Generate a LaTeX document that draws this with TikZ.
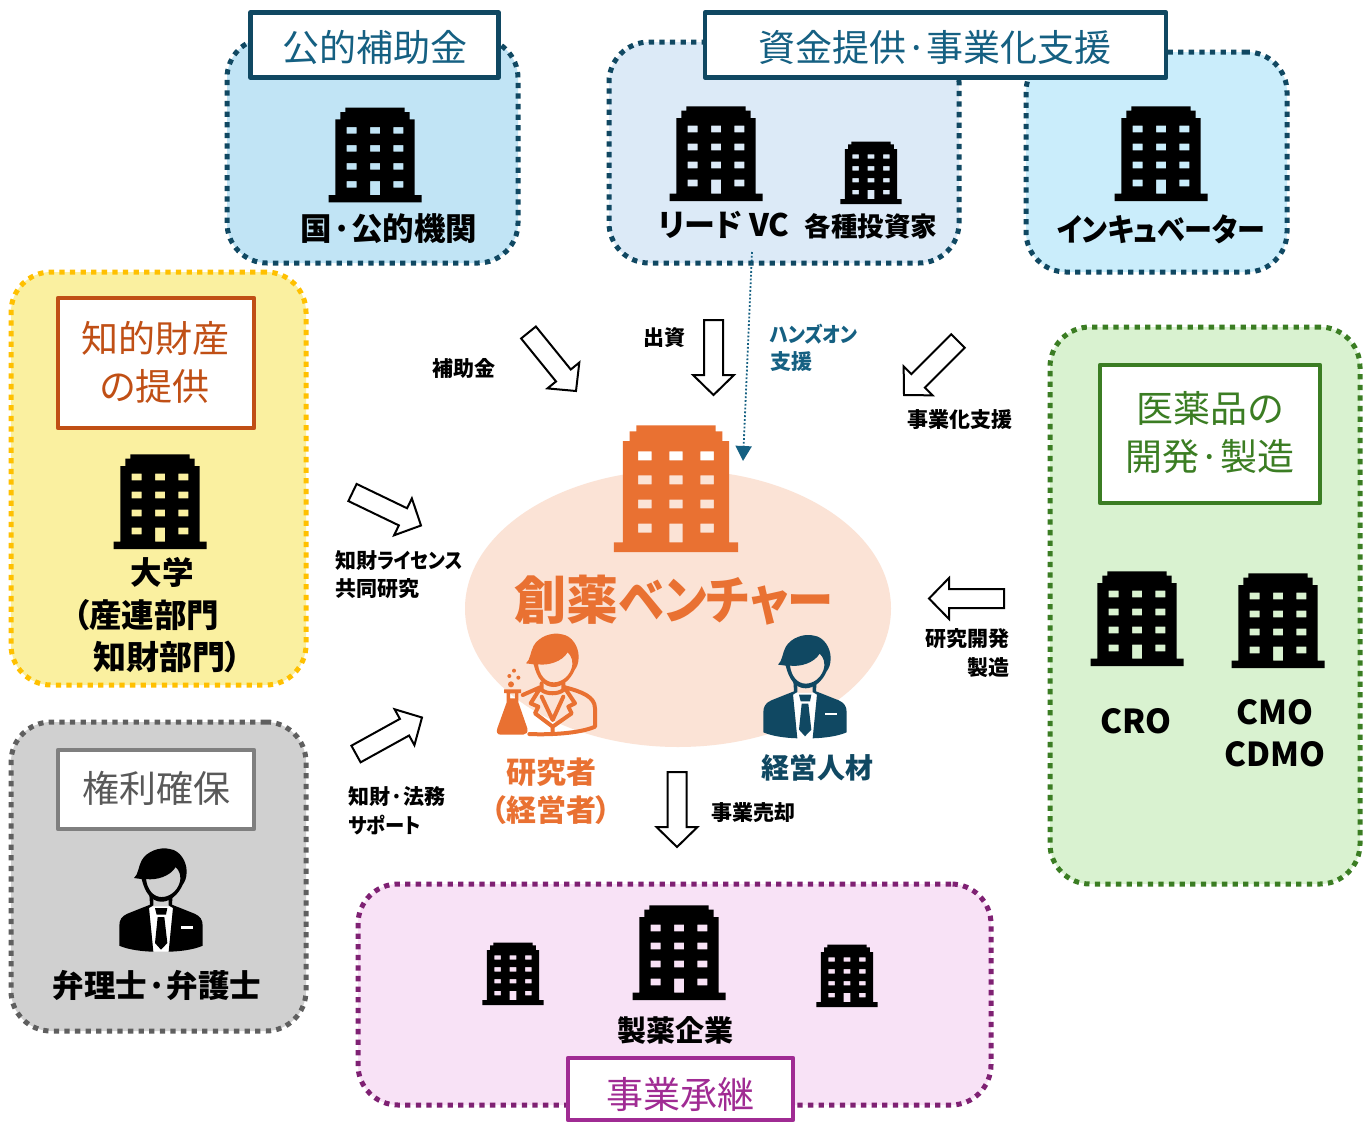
\documentclass[tikz,border=0pt]{standalone}
\usepackage{fontspec}
\usepackage{graphicx}
\setmainfont{Noto Sans CJK JP}[RawFeature={+palt}]
\usetikzlibrary{calc,arrows.meta}
\definecolor{teal}{HTML}{104862}
\definecolor{tealmid}{HTML}{156082}
\definecolor{orng}{HTML}{E97132}
\definecolor{orngdk}{HTML}{C04F15}
\definecolor{grnd}{HTML}{3B7D23}
\definecolor{purp}{HTML}{A02B93}
\definecolor{purpd}{HTML}{7F2173}
\definecolor{grayd}{HTML}{5F5F5F}
\definecolor{graym}{HTML}{7F7F7F}
\definecolor{grayt}{HTML}{595959}
\newcommand\fs[1]{\fontsize{#1}{#1}\selectfont}
\newcommand\xs[2]{\scalebox{#1}[1]{#2}}
\tikzset{
  region/.style={rectangle,rounded corners=40pt,line width=5pt,dash pattern=on 5.3pt off 5.3pt,inner sep=0pt,outer sep=0pt},
  titlebox/.style={rectangle,fill=white,line width=4.5pt,line join=round,inner sep=0pt,outer sep=0pt},
  ttl/.style={inner sep=0pt,font=\fs{37}},
  big/.style={inner sep=0pt,font=\bfseries\fs{31.5}},
  lbl/.style={inner sep=0pt,font=\bfseries\fs{21}},
  blockstyle/.style={fill=white,draw=black,line width=2pt,line join=miter},
}
% building: centre x, bottom y, scale, colour
\newcommand\bldg[4]{%
  \fill[#4,even odd rule,shift={(#1,#2)},x=#3pt,y=-#3pt]
    (-46.5,0) -- (46.5,0) -- (46.5,-7.3) -- (39.7,-7.3) -- (39.7,-83) -- (34.7,-83) -- (34.7,-90.3) -- (29.7,-90.3) -- (29.7,-94.7)
    -- (-29.7,-94.7) -- (-29.7,-90.3) -- (-34.7,-90.3) -- (-34.7,-83) -- (-39.7,-83) -- (-39.7,-7.3) -- (-46.5,-7.3) -- cycle
    \foreach \cx in {-23.3,0,23.3}{ \foreach \ry in {68.6,50.6,32.6}{
      (\cx-5,-\ry) rectangle (\cx+5,-\ry-6.7) } }
    (-23.3-5,-14.6) rectangle (-23.3+5,-21.3)
    (23.3-5,-14.6) rectangle (23.3+5,-21.3)
    (-5,-7.3) rectangle (5,-21.3);
}
% head, shared by all the figures (anchor 153,336 in third-of-a-pixel units)
\newcommand\headpath{%
  (72,115) .. controls (85,105) and (85,80) .. (95,62) .. controls (110,35) and (150,20) .. (180,28)
  .. controls (210,32) and (230,65) .. (230,95) .. controls (230,115) and (225,125) .. (218,135)
  .. controls (205,165) and (180,186) .. (155,186) .. controls (125,186) and (105,160) .. (95,118) -- cycle
  (108,118) .. controls (140,122) and (180,110) .. (197,82) .. controls (208,92) and (216,110) .. (208,132)
  .. controls (200,155) and (178,172) .. (155,172) .. controls (130,172) and (112,150) .. (108,118) -- cycle}
\newcommand\suitperson[3]{%
  \begin{scope}[shift={(#1,#2)},x=.3333pt,y=-.3333pt,shift={(-153,-336)}]
    \fill[white] (117,200) -- (189,200) -- (176,336) -- (130,336) -- cycle;
    \fill[#3,even odd rule] \headpath;
    \fill[#3] (118,165) -- (120,195) -- (52,222) .. controls (35,230) and (28,240) .. (28,258) -- (28,318)
      .. controls (55,330) and (95,335) .. (130,336) -- (117,205) -- (130,197) -- (130,178) -- cycle;
    \fill[#3] (188,165) -- (186,195) -- (254,222) .. controls (271,230) and (278,240) .. (278,258) -- (278,318)
      .. controls (251,330) and (211,335) .. (176,336) -- (189,205) -- (176,197) -- (176,178) -- cycle;
    \fill[white] (213,260) rectangle (248,267);
    \fill[#3] (135,205) -- (172,205) -- (168,225) -- (140,225) -- cycle;
    \fill[#3] (143,232) -- (163,232) -- (172,310) -- (153,330) -- (135,310) -- cycle;
  \end{scope}%
}
\newcommand\researcher[3]{%
  \begin{scope}[shift={(#1,#2)},x=.3333pt,y=-.3333pt]
    \begin{scope}[shift={(-153,-336)}]
      \fill[#3,even odd rule] \headpath;
    \end{scope}
    \begin{scope}[shift={(-189,-336)}]
      \draw[#3,line width=4pt,line join=round,line cap=round]
        (150,187) -- (98,210) (225,187) .. controls (275,200) and (315,215) .. (315,250) -- (315,305)
        .. controls (270,325) and (180,330) .. (118,327)
        (150,190) -- (122,235) -- (145,245) -- (135,265) -- (188,305)
        (225,190) -- (255,235) -- (235,245) -- (245,265) -- (188,305)
        (155,215) -- (188,285) -- (220,215)
        (155,175) -- (155,195) .. controls (170,208) and (205,208) .. (220,195) -- (220,175)
        (188,305) -- (188,325);
      \fill[#3,even odd rule] (42,193) -- (93,193) -- (93,204) -- (85,204) -- (85,232) -- (112,310)
        .. controls (115,322) and (108,329) .. (100,329) -- (32,329) .. controls (22,329) and (18,322) .. (22,310)
        -- (50,232) -- (50,204) -- (42,204) -- cycle
        (60,205) rectangle (75,220);
      \fill[#3] (63,178) circle (9) (58,153) circle (6) (85,158) circle (6) (72,137) circle (6);
    \end{scope}
  \end{scope}%
}
\newcommand\blockarrow[2]{%
  \coordinate (#1h) at ($(#2)!20pt!(#1)$);
  \filldraw[blockstyle]
    ($(#1)!9.5pt!90:(#2)$) -- ($(#1h)!9.5pt!-90:(#1)$) -- ($(#1h)!20.5pt!-90:(#1)$) -- (#2)
    -- ($(#1h)!20.5pt!90:(#1)$) -- ($(#1h)!9.5pt!90:(#1)$) -- ($(#1)!9.5pt!-90:(#2)$) -- cycle;
}
\begin{document}
\begin{tikzpicture}[x=1pt,y=-1pt]
\useasboundingbox (0,0) rectangle (1371,1122);
\fill[white] (0,0) rectangle (1371,1122);
% regions
\node[region,fill={rgb,255:red,193;green,228;blue,245},draw=teal,minimum width=291pt,minimum height=225pt] (rPublic) at (372.5,150.5) {};
\node[region,fill={rgb,255:red,220;green,234;blue,247},draw=teal,minimum width=350pt,minimum height=221pt] (rVC) at (784,152.5) {};
\node[region,fill={rgb,255:red,202;green,237;blue,251},draw=teal,minimum width=261pt,minimum height=220pt] (rInc) at (1156.5,162) {};
\node[region,fill={rgb,255:red,250;green,240;blue,160},draw={rgb,255:red,255;green,192;blue,0},minimum width=295pt,minimum height=413pt] (rUniv) at (158.5,478.5) {};
\node[region,fill={rgb,255:red,208;green,208;blue,208},draw=grayd,minimum width=295pt,minimum height=309pt] (rLaw) at (158.5,876.5) {};
\node[region,fill={rgb,255:red,217;green,242;blue,208},draw=grnd,minimum width=310pt,minimum height=557pt] (rDev) at (1205,605.5) {};
\node[region,fill={rgb,255:red,248;green,226;blue,246},draw=purpd,minimum width=633pt,minimum height=221pt] (rPharma) at (674.5,994.5) {};
% venture ellipse
\fill[fill={rgb,255:red,251;green,227;blue,214}] (678,608.5) ellipse [x radius=213pt,y radius=138.5pt];
\node[inner sep=0pt,minimum size=0pt] (venture) at (678,608) {};
% title boxes
\node[titlebox,draw=teal,minimum width=248pt,minimum height=65pt] (bPublic) at (374.5,45) {};
\node[ttl,text=tealmid] (tPublic) at (375,47) {公的補助金};
\node[titlebox,draw=teal,minimum width=461pt,minimum height=65pt] (bFund) at (935.5,45) {};
\node[ttl,text=tealmid] (tFund) at (935,47) {資金提供·事業化支援};
\node[titlebox,draw=orngdk,minimum width=196pt,minimum height=130pt] (bIP) at (156,363) {};
\node[ttl,text=orngdk] (tIP1) at (155,338) {知的財産};
\node[ttl,text=orngdk] (tIP2) at (155,386) {の提供};
\node[titlebox,draw=graym,minimum width=196pt,minimum height=79pt] (bRight) at (156,789.5) {};
\node[ttl,text=grayt] (tRight) at (156,788) {権利確保};
\node[titlebox,draw=grnd,minimum width=220pt,minimum height=138pt] (bDev) at (1210,434) {};
\node[ttl,text=grnd] (tDev1) at (1210,408) {医薬品の};
\node[ttl,text=grnd] (tDev2) at (1210,457) {開発·製造};
\node[titlebox,draw=purp,minimum width=225pt,minimum height=62pt] (bSucc) at (680.5,1089) {};
\node[ttl,text=purp] (tSucc) at (680,1094) {事業承継};
% buildings
\bldg{375}{202.3}{1}{black}
\bldg{716}{201}{1}{black}
\bldg{871}{204}{.66}{black}
\bldg{1161}{201}{1}{black}
\bldg{160}{549}{1}{black}
\bldg{1137}{666}{1}{black}
\bldg{1278}{668}{1}{black}
\bldg{679}{1000}{1}{black}
\bldg{513}{1005}{.66}{black}
\bldg{847}{1007}{.66}{black}
\bldg{676}{552}{1.336}{orng}
% people
\suitperson{161}{951.7}{black}
\suitperson{805}{738.3}{teal}
\researcher{553}{737}{orng}
% bold labels
\node[big] (lPublic) at (389,229) {国·公的機関};
\node[inner sep=0pt,font=\bfseries\fs{31}] (lLead) at (724,225) {リード VC};
\node[inner sep=0pt,font=\bfseries\fs{26.5}] (lInv) at (871,226) {各種投資家};
\node[big] (lInc) at (1161,229) {\xs{.89}{インキュベーター}};
\node[big] (lUniv1) at (162,572) {大学};
\node[big,anchor=west] (lUniv2) at (73,615) {\fs{32.5}（産連部門};
\node[big,anchor=west] (lUniv3) at (93,657) {\fs{33}知財部門）};
\node[big] (lLaw) at (157,985) {弁理士·弁護士};
\node[inner sep=0pt,font=\bfseries\fs{33}] (lCRO) at (1136,721) {CRO};
\node[inner sep=0pt,font=\bfseries\fs{33}] (lCMO) at (1275,712) {CMO};
\node[inner sep=0pt,font=\bfseries\fs{33}] (lCDMO) at (1275,754) {CDMO};
\node[inner sep=0pt,font=\bfseries\fs{29}] (lPharma) at (675,1030) {製薬企業};
\node[inner sep=0pt,font=\bfseries\fs{52},text=orng] (lVent) at (674,600) {創薬\xs{.89}{ベンチャー}};
\node[inner sep=0pt,font=\bfseries\fs{30},text=orng] (lRes1) at (551,772) {研究者};
\node[inner sep=0pt,font=\bfseries\fs{30},text=orng] (lRes2) at (551,810) {（経営者）};
\node[inner sep=0pt,font=\bfseries\fs{28},text=teal] (lMgr) at (817,768) {経営人材};
% small labels
\node[lbl] (s1) at (464,368) {補助金};
\node[lbl] (s2) at (664,338) {出資};
\node[lbl,anchor=west,text=tealmid] (s3) at (770,334) {\xs{.89}{ハンズオン}};
\node[lbl,anchor=west,text=tealmid] (s4) at (770,362) {支援};
\node[lbl] (s5) at (960,420) {事業化支援};
\node[lbl,anchor=west] (s6) at (335,561) {知財\xs{.885}{ライセンス}};
\node[lbl,anchor=west] (s7) at (335,589) {共同研究};
\node[lbl,anchor=east] (s8) at (1010,639) {研究開発};
\node[lbl,anchor=east] (s9) at (1010,668) {製造};
\node[lbl,anchor=west] (s10) at (348,797) {知財·法務};
\node[lbl,anchor=west] (s11) at (348,825) {\xs{.92}{サポート}};
\node[lbl] (s12) at (753,813) {事業売却};
% block arrows
\coordinate (aT) at (528.5,332.5); \coordinate (aH) at (576,391); \blockarrow{aT}{aH}
\coordinate (bT) at (713.5,320);   \coordinate (bH) at (713.5,395); \blockarrow{bT}{bH}
\coordinate (cT) at (958,341);     \coordinate (cH) at (904,395); \blockarrow{cT}{cH}
\coordinate (dT) at (352.5,492.5); \coordinate (dH) at (421,525.5); \blockarrow{dT}{dH}
\coordinate (eT) at (356,754);     \coordinate (eH) at (422,717.5); \blockarrow{eT}{eH}
\coordinate (fT) at (1004,598.5);  \coordinate (fH) at (929,598.5); \blockarrow{fT}{fH}
\coordinate (gT) at (677,772);     \coordinate (gH) at (677,847); \blockarrow{gT}{gH}
% dotted support arrow
\coordinate (supA) at (752,252); \coordinate (supB) at (743,461);
\draw[tealmid,line width=1.8pt,dash pattern=on 1.8pt off 2pt,-{Triangle[width=16pt,length=15pt]}] (supA) -- (supB);
\end{tikzpicture}
\end{document}
